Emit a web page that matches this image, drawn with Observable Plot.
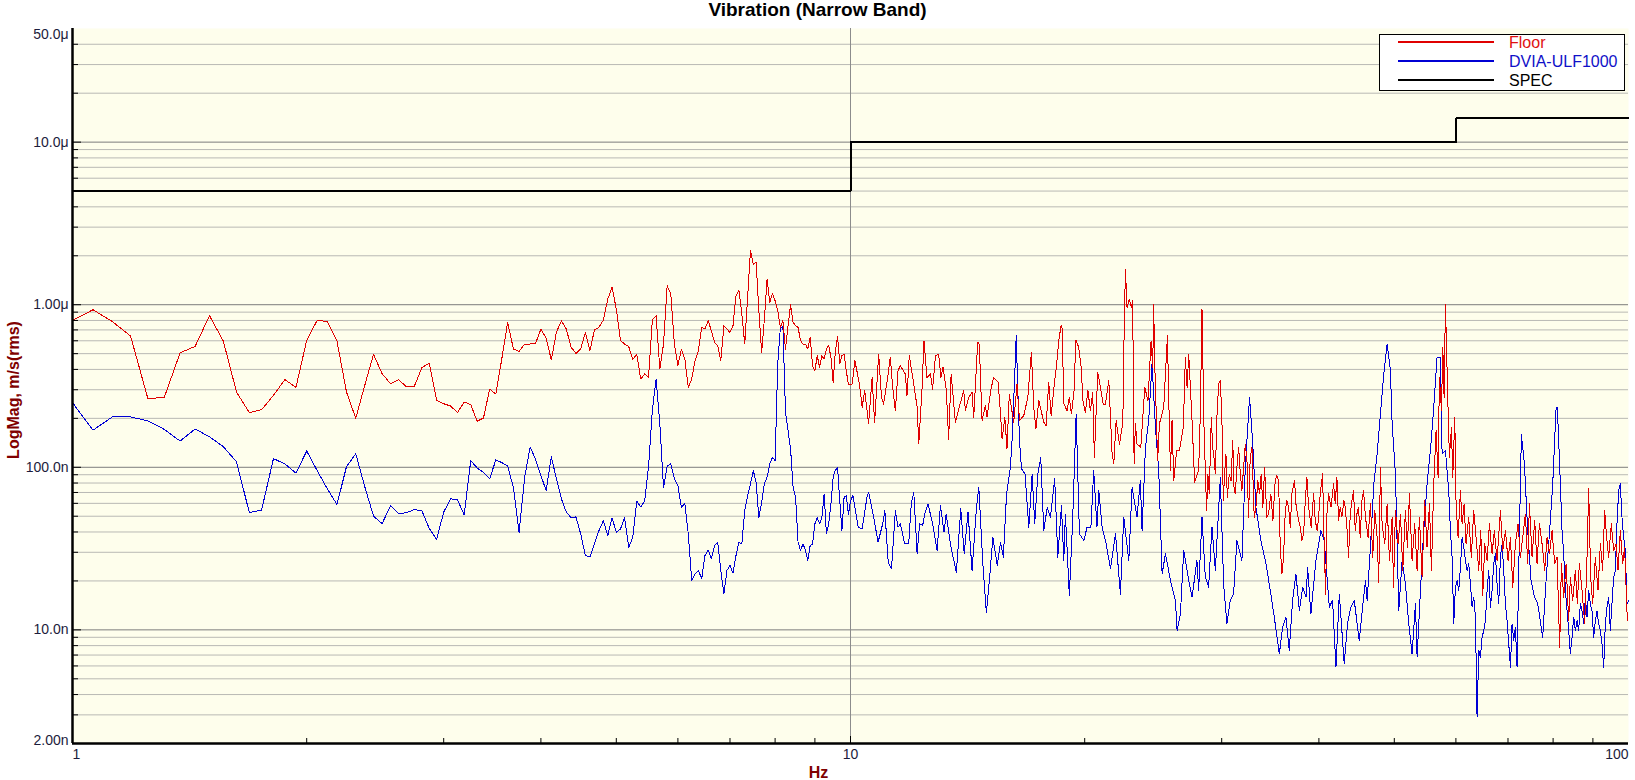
<!DOCTYPE html>
<html><head><meta charset="utf-8">
<script src="https://cdn.jsdelivr.net/npm/d3@7"></script>
<script src="https://cdn.jsdelivr.net/npm/@observablehq/plot@0.6"></script>
<style>
html,body{margin:0;padding:0;background:#fff;}
body{width:1635px;height:780px;overflow:hidden;font-family:"Liberation Sans",Arial,sans-serif;}
#title{height:20px;line-height:20px;text-align:center;font-weight:bold;font-size:19px;color:#000;}
#wrap{position:relative;width:1635px;height:760px;}
#wrap svg{display:block;}
#legend{position:absolute;left:1379px;top:14px;width:244px;height:55px;border:1px solid #000;background:#fff;}
.row{position:absolute;left:0;height:19px;width:100%;}
.sw{position:absolute;left:18px;width:96px;height:2px;top:8.4px;}
.lab{position:absolute;left:129px;top:0;font-size:16px;line-height:19px;white-space:nowrap;}
</style></head>
<body>
<div id="title">Vibration (Narrow Band)</div>
<div id="wrap"><div id="legend"></div></div>
<script>
// ---- values in nm/s (rms), frequencies in Hz ----
const lowHz = [1,1.0625,1.125,1.1875,1.25,1.3125,1.375,1.4375,1.5,1.5625,1.625,1.6875,1.75,1.8125,1.875,1.9375,
2,2.0625,2.125,2.1875,2.25,2.3125,2.375,2.4375,2.5,2.5625,2.625,2.6875,2.75,2.8125,2.875,2.9375,
3,3.0625,3.125,3.1875,3.25,3.3125,3.375,3.4375,3.5,3.5625,3.625,3.6875,3.75,3.8125,3.875,3.9375,
4,4.0625,4.125,4.1875,4.25,4.3125,4.375,4.4375,4.5,4.5625,4.625,4.6875,4.75,4.8125,4.875,4.9375,
5,5.0625,5.125,5.1875,5.25,5.3125,5.375,5.4375,5.5,5.5625,5.625,5.6875,5.75,5.8125,5.875,5.9375,
6,6.0625,6.125,6.1875,6.25,6.3125,6.375,6.4375,6.5,6.5625,6.625,6.6875,6.75,6.8125,6.875,6.9375,
7,7.0625,7.125,7.1875,7.25,7.3125,7.375,7.4375,7.5,7.5625,7.625,7.6875,7.75,7.8125,7.875,7.9375,
8,8.0625,8.125,8.1875,8.25,8.3125,8.375,8.4375,8.5,8.5625,8.625,8.6875,8.75,8.8125,8.875,8.9375,
9,9.0625,9.125,9.1875,9.25,9.3125,9.375,9.4375,9.5,9.5625,9.625,9.6875,9.75,9.8125,9.875,9.9375,10];

const floorLow = [800,931,788,642,264,270,506,554,856,598,290,217,226,277,346,310,
604,800,790,598,290,200,319,495,377,327,346,312,315,410,438,258,
246,238,217,252,243,192,201,303,282,463,778,534,517,573,573,578,
708,624,457,676,797,708,547,502,534,676,522,702,726,805,1083,1279,
940,601,573,552,463,493,349,375,357,805,856,402,573,1309,1163,573,
422,534,463,310,349,453,522,726,708,797,692,587,560,453,743,708,
676,743,1136,1231,877,573,1109,2168,1778,1820,919,509,817,1439,1034,1174,
1058,919,726,797,534,743,1000,778,743,726,601,573,573,534,630,422,
393,486,412,486,463,534,560,475,333,522,636,432,486,497,393,325,325];

const dviaLow = [250,169,204,204,193,171,145,172,154,134,108,52.7,54.5,113,105,92,
126,95.5,74,59,101,121,76,50,45,58,52,52.5,55,54,42,36,
53,64,63,51,110,99,93,84.8,111,107,102,75,39.8,87,133,112,
89,72,116,85,64,53,49,49.5,38.9,28.6,28.2,33.8,40.8,47,38,48.9,
39.8,41.8,48.9,32.2,37,62,57,62,100,223,349,185,75,102,105,85,
77,56.8,59.6,38.9,20.1,22.1,23.2,20.6,28.6,31,27.3,33,34.6,23.2,16.6,23.2,
24.9,22.3,28.6,34.6,33.8,54.2,67,79,95.4,80.9,49,61,79,87,105,115,
110,432,719,733,218,168,130,75,65.4,34.6,30.8,33.8,31,26.7,33,33.8,
44.9,49,44.9,49,68.6,38.9,44.9,59.6,87,96.3,99,62,40.8,65.4,67,51.2,62];

const floorHzHigh = [10.05,10.13,10.27,10.35,10.43,10.55,10.66,10.74,10.87,10.96,11.03,11.18,11.25,11.33,11.42,11.51,11.59,11.76,11.82,11.90,
12.06,12.18,12.24,12.36,12.43,12.54,12.67,12.75,12.86,12.98,13.07,13.15,13.28,13.37,13.47,13.64,13.78,13.98,14.05,14.19,
14.33,14.40,14.57,14.64,14.76,14.91,14.98,15.17,15.28,15.48,15.59,15.66,15.79,15.89,16.00,16.21,16.37,16.49,16.70,16.90,
17.08,17.20,17.31,17.46,17.72,17.84,17.98,18.11,18.30,18.40,18.52,18.65,18.70,18.81,18.98,19.11,19.23,19.38,19.48,19.65,
19.79,19.90,20.04,20.19,20.34,20.48,20.58,20.70,20.79,20.95,21.12,
21.27,21.48,21.69,21.80,21.95,22.17,22.39,22.45,22.56,22.67,22.83,22.96,23.05,23.15,23.24,23.35,23.61,23.89,24.12,24.34,
24.46,24.53,24.60,24.82,24.95,25.27,25.55,25.65,25.78,25.90,26.03,26.26,26.47,26.78,26.94,27.08,27.21,27.48,27.69,28.02,
28.16,28.30,28.47,
28.58,28.69,28.80,28.92,29.09,29.21,29.32,29.44,29.59,29.73,29.88,30.02,30.14,30.26,30.38,30.50,30.68,30.84,31.00,31.11,
31.23,31.38,31.54,31.70,31.85,32.01,32.17,32.33,32.48,32.64,32.81,33.03,33.20,33.39,33.56,33.72,33.89,34.06,34.29,34.46,
34.70,34.91,35.15,35.33,35.50,35.68,35.85,36.03,36.21,36.39,36.57,36.75,36.93,37.22,37.37,37.60,37.86,38.04,38.23,38.42,
38.61,38.80,39.10,39.38,39.57,39.80,39.96,40.16,40.44,40.60,40.80,40.96,41.16,41.45,41.78,41.98,42.19,42.40,42.61,42.82,
43.07,43.24,43.46,43.67,43.89,44.10,44.32,44.54,44.76,44.98,45.20,45.43,45.65,
45.91,46.27,46.59,46.91,47.20,47.52,47.75,47.99,48.23,48.61,48.95,49.29,49.68,49.88,50.17,50.57,50.92,51.27,51.67,51.98,
52.29,52.70,53.12,53.49,53.86,54.29,54.71,55.09,55.48,55.81,56.19,56.58,56.92,57.14,57.49,57.72,57.94,58.17,58.40,58.63,
58.86,59.21,59.45,59.80,60.03,60.39,60.81,61.11,61.47,61.83,62.32,62.81,63.25,63.69,64.20,64.58,64.97,65.35,65.81,66.26,
66.78,67.24,67.77,68.45,68.93,69.47,70.02,70.51,71.00,71.55,72.12,72.62,73.12,73.70,74.21,74.58,75.17,75.76,76.29,76.82,
77.43,78.04,78.58,79.13,79.75,80.38,80.94,81.58,81.98,82.55,83.13,83.78,84.19,84.78,85.45,85.95,86.46,87.15,87.84,88.36,
88.88,89.41,89.94,90.65,91.37,92.01,92.64,93.18,93.74,94.30,95.04,95.70,96.37,96.94,97.61,98.28,98.86,99.65];

const floorHigh = [325,453,325,234,296,185,357,189,497,269,245,375,475,310,223,393,422,375,276,486,
325,234,139,310,601,357,375,303,486,497,357,412,296,149,375,189,229,296,223,269,
289,203,587,573,194,240,203,310,357,333,213,149,203,130,282,189,325,194,208,269,
509,234,172,257,189,180,333,208,341,422,601,743,726,245,223,269,213,296,606,547,
412,257,218,296,223,289,115,234,384,310,245,
245,341,121,105,194,139,189,497,1657,963,1083,963,1058,105,185,139,133,310,257,601,
412,1009,453,110,185,234,644,257,95.4,194,82.8,127,127,176,475,310,497,194,81.1,95.4,
213,941,176,
95.4,54.2,91,68.6,203,133,115,91,213,325,341,194,62.4,91,121,65.4,91,82.8,146,75.4,
68.6,100,133,91,71.9,100,139,110,49.3,115,133,49.3,56.8,82.8,68.6,91,56.8,100,49.3,51.6,
68.6,47,82.8,88.9,82.8,32.3,22.1,28,54.2,62.4,56.8,42.8,68.6,82.8,59.5,49.3,42.8,35.4,38.9,62.4,
86.8,56.8,42.8,68.6,47,40.8,49.3,68.6,91,38.9,16.6,51.6,68.6,56.8,79,59.5,86.8,47,56.8,49.3,
62.4,56.8,42.8,28,51.6,62.4,71.9,40.8,51.6,56.8,37.1,62.4,71.9,
49.3,37.1,59.5,28,54.2,37.1,19.6,100,44.9,33.8,59.5,26.7,49.3,18.3,54.2,33.8,51.6,23.2,54.2,32.2,
68.6,26.7,44.9,23.2,49.3,21.1,62.4,32.2,59.5,23.2,79,168,86.8,357,223,547,269,1009,474,223,
115,176,86.8,203,59.5,37.1,71.9,44.9,59.5,33.8,49.3,28,54.2,37.1,23.2,40.8,16.3,33.8,26.7,44.9,
29.3,40.8,26.7,54.2,30.7,40.8,26.7,37.1,18.3,33.8,44.9,28,37.1,51.6,25.5,59.5,28,47,25.5,44.9,
33.8,23.2,37.1,29.3,40.8,25.5,28,7.8,25.5,15.9,25.5,11.4,21.1,15.1,23.2,14.5,25.5,17.5,10.9,23.2,
73.6,21.1,14.5,28,17.5,33.8,23.2,54.2,37.1,28,44.9,30.7,33.8,23.2,40.8,25.5,32.2,11.4];

const dviaHzHigh = [10.07,10.23,10.35,10.50,10.55,10.71,10.85,11.00,11.07,11.18,11.29,11.42,11.51,11.59,11.74,11.88,11.97,12.06,12.18,12.27,
12.38,12.46,12.58,12.75,12.92,13.05,13.19,13.27,13.45,13.68,13.86,14.00,14.16,14.33,14.52,14.62,14.79,14.95,15.09,15.24,
15.44,15.59,15.72,15.87,16.05,16.13,16.25,16.33,16.41,16.49,16.59,16.76,16.95,17.12,17.25,17.41,17.56,17.72,17.90,18.07,
18.30,18.47,18.67,18.80,18.89,19.11,19.30,19.50,19.69,19.95,20.14,20.37,20.54,20.74,20.85,21.06,
21.27,21.59,21.91,22.23,22.45,22.79,23.01,23.35,23.58,23.70,23.94,24.17,24.41,24.66,24.90,25.15,25.40,25.78,26.16,26.29,
26.55,26.81,27.21,27.48,27.88,28.02,28.30,28.58,28.86,29.15,29.44,29.88,30.17,30.47,30.77,31.07,31.38,31.85,32.17,32.58,
32.87,33.20,33.69,34.20,34.70,35.05,35.58,35.93,36.28,36.64,37.00,37.37,37.75,38.12,38.50,38.69,39.06,39.65,40.24,40.64,
41.25,41.65,42.07,42.49,43.11,43.54,43.97,44.41,45.07,45.52,
45.91,46.14,46.59,47.06,47.52,47.99,48.47,48.95,49.43,49.68,50.17,50.67,51.17,51.67,52.19,52.70,53.23,53.49,54.02,54.55,
55.09,55.64,56.19,56.75,57.31,57.60,58.17,58.74,
59.03,59.33,59.62,59.91,60.21,60.51,60.81,61.11,61.41,61.71,62.01,62.32,62.63,62.94,63.25,63.57,63.88,64.20,64.51,64.83,
65.16,65.48,65.80,66.13,66.45,66.78,67.11,67.44,67.77,68.11,68.45,68.79,69.13,69.47,69.81,70.16,70.51,70.85,71.20,71.55,
71.90,72.26,
72.83,73.48,74.21,74.95,75.69,76.44,77.58,78.35,79.13,79.91,80.70,81.02,81.74,
82.14,82.55,82.96,83.37,83.78,84.19,84.61,85.03,85.45,85.87,86.29,86.72,87.15,87.58,88.01,88.44,88.88,89.32,89.76,90.20,
90.65,91.10,91.55,92.00,92.46,92.92,93.37,93.84,94.30,94.76,95.23,95.70,96.18,96.65,97.13,97.61,98.09,98.57,99.06,99.55,100];

const dviaHigh = [67,42.8,41.8,65.4,70.2,49.3,34.6,44.9,54.2,26.1,23.8,54.2,42.8,44.9,33.8,33.8,59.5,70.2,29.4,44.9,
43.8,51.6,59.5,44.9,30.8,58.1,39.8,51.6,33,22.6,55.5,29.4,52.9,23.2,56.8,75.4,26.1,12.7,20.6,37.1,
24.9,34.6,28,68.6,100,146,341,644,296,146,97.7,91,42.8,91,44.9,91,115,40.8,56.8,49.3,
84.8,28,58.1,26.7,51.6,16.3,47,213,38.9,35.4,42.8,42.8,95.4,42.8,71.9,42.8,
35.4,23.8,38.9,16.6,49.3,26.7,75.4,49.3,82.8,40.8,133,194,432,176,95.4,22.1,29.4,20.1,15.2,9.9,
12.5,30.8,20.1,15.9,26.7,17.5,49.3,21.1,18.3,42.8,23.2,86.8,19.2,10.9,15.2,16.6,35.4,26.7,100,269,
146,56.8,35.4,25.5,16.6,12,7.1,10.4,12,7.5,15.2,22.1,13.2,18.3,15.9,24.3,12.5,26.7,40.8,35.4,
13.8,15.2,5.9,16.6,6.2,10.9,13.8,15.2,8.6,13.8,
20.1,15.1,32.2,79,121,213,375,574,393,185,91,13.1,26.7,19.2,10.9,7.1,14.5,6.8,17.5,40.8,
79,127,234,474,474,121,127,71.9,
40.8,28,10.9,18.3,20.1,17.5,24.3,37.1,32.2,26.7,23.2,25.5,19.2,13.8,15.9,12,2.9,7.5,6.8,9,
9.9,11.4,17.5,23.2,13.8,17.5,25.5,29.3,19.2,14.5,28,33.8,23.2,14.5,11.4,8.2,5.9,10.9,8.6,10.4,
5.9,23.2,
160,105,40.8,20.1,15.9,14.5,9,20.1,38.9,79,229,234,79,
40.8,29.3,17.5,13.1,9.9,7.1,9,12,9.9,11.4,9.9,14.5,13.1,10.9,15.9,12,17.5,14.5,13.1,9,
11.4,13.1,10.9,9.9,8.2,5.9,10.9,13.8,15.9,9.9,14.5,21.1,23.2,44.9,71.9,79,49.3,37.1,30.7,14.5,15.1];

const specHz = [1, 10, 60, 100];
const specLevel = [5000, 10000, 14000, 14000];

const seriesNames = ["Floor", "DVIA-ULF1000", "SPEC"];
const seriesColors = ["#e00000", "#0000d4", "#000000"];

const yTickValues = [2, 10, 100, 1000, 10000, 50000];
const yTickLabels = ["2.00n", "10.0n", "100.0n", "1.00\u03bc", "10.0\u03bc", "50.0\u03bc"];
const xTickValues = [1, 10, 100];
const xTickLabels = ["1", "10", "100"];
const xDomain = [1, 100];
const yDomain = [2, 50000];

// ---- tables ----
const mk = (fs, vs) => fs.slice(0, Math.min(fs.length, vs.length)).map((f, i) => ({f, v: vs[i]}));
const floorData = mk(lowHz, floorLow).concat(mk(floorHzHigh, floorHigh));
const dviaData = mk(lowHz, dviaLow).concat(mk(dviaHzHigh, dviaHigh));
const specData = mk(specHz, specLevel);
const yLab = yTickValues.map((v, i) => ({v, label: yTickLabels[i]}));
const xLab = xTickValues.map((f, i) => ({f, label: xTickLabels[i]}));

const isDecade = t => Math.abs(Math.log10(t) - Math.round(Math.log10(t))) < 1e-9;
const yAll = d3.scaleLog().domain(yDomain).ticks();
const yGrid = yAll.filter(t => t > yDomain[0] && t < yDomain[1]);
const yMinor = yGrid.filter(t => !isDecade(t));
const yMajor = yGrid.filter(isDecade);
const xAll = d3.scaleLog().domain(xDomain).ticks();
const xMinor = xAll.filter(t => !isDecade(t));
const xMajor = xAll.filter(t => isDecade(t) && t > xDomain[0] && t < xDomain[1]);

const W = 1635, H = 760, ML = 72, MR = 7, MT = 8, MB = 37;
const frameW = W - ML - MR, frameH = H - MT - MB;

const labelColor = "#1c1c3c";
const titleColor = "#800000";

const chart = Plot.plot({
  width: W,
  height: H,
  marginLeft: ML,
  marginRight: MR,
  marginTop: MT,
  marginBottom: MB,
  x: {type: "log", domain: xDomain, axis: null},
  y: {type: "log", domain: yDomain, axis: null},
  style: {fontFamily: "'Liberation Sans', Arial, sans-serif", background: "#ffffff", overflow: "visible"},
  marks: [
    Plot.frame({fill: "#fefeec", stroke: null}),
    Plot.ruleY(yMinor, {stroke: "#b9b9b4", strokeWidth: 1}),
    Plot.ruleY(yMajor, {stroke: "#7c7c7c", strokeWidth: 1}),
    Plot.ruleX(xMajor, {stroke: "#8c8c8c", strokeWidth: 1}),
    Plot.line(dviaData, {x: "f", y: "v", stroke: seriesColors[1], strokeWidth: 1, shapeRendering: "crispEdges"}),
    Plot.line(floorData, {x: "f", y: "v", stroke: seriesColors[0], strokeWidth: 1, shapeRendering: "crispEdges"}),
    Plot.line(specData, {x: "f", y: "v", stroke: seriesColors[2], strokeWidth: 2, curve: "step-after", shapeRendering: "crispEdges"}),
    // inward tick marks
    Plot.ruleY(yMinor, {stroke: "#000", strokeWidth: 1, insetRight: frameW - 6}),
    Plot.ruleY(yMajor, {stroke: "#000", strokeWidth: 1, insetRight: frameW - 9}),
    Plot.ruleX(xMinor, {stroke: "#000", strokeWidth: 1, insetTop: frameH - 5}),
    Plot.ruleX(xMajor, {stroke: "#000", strokeWidth: 1, insetTop: frameH - 7}),
    // axis lines
    Plot.ruleX([xDomain[0]], {stroke: "#000", strokeWidth: 2.5}),
    Plot.ruleY([yDomain[0]], {stroke: "#000", strokeWidth: 2.5}),
    // y tick labels
    Plot.text(yLab.slice(1, -1), {y: "v", text: "label", frameAnchor: "left", textAnchor: "end", lineAnchor: "middle", dx: -4, fontSize: 14, fill: labelColor}),
    Plot.text(yLab.slice(-1), {y: "v", text: "label", frameAnchor: "left", textAnchor: "end", lineAnchor: "top", dx: -4, dy: 1, fontSize: 14, fill: labelColor}),
    Plot.text(yLab.slice(0, 1), {y: "v", text: "label", frameAnchor: "left", textAnchor: "end", lineAnchor: "bottom", dx: -4, dy: 1, fontSize: 14, fill: labelColor}),
    // x tick labels
    Plot.text(xLab.slice(0, 1), {x: "f", text: "label", frameAnchor: "bottom", textAnchor: "start", lineAnchor: "top", dy: 6, fontSize: 14, fill: labelColor}),
    Plot.text(xLab.slice(1, -1), {x: "f", text: "label", frameAnchor: "bottom", textAnchor: "middle", lineAnchor: "top", dy: 6, fontSize: 14, fill: labelColor}),
    Plot.text(xLab.slice(-1), {x: "f", text: "label", frameAnchor: "bottom", textAnchor: "end", lineAnchor: "top", dy: 6, fontSize: 14, fill: labelColor}),
    // axis titles
    Plot.text(["Hz"], {frameAnchor: "bottom", dx: -32, dy: 29, lineAnchor: "middle", fontWeight: "bold", fontSize: 16, fill: titleColor}),
    Plot.text(["LogMag, m/s(rms)"], {frameAnchor: "left", rotate: -90, dx: -59, dy: 4, lineAnchor: "middle", textAnchor: "middle", fontWeight: "bold", fontSize: 16, fill: titleColor})
  ]
});

const wrap = document.getElementById("wrap");
wrap.insertBefore(chart, wrap.firstChild);

const legend = document.getElementById("legend");
seriesNames.forEach((name, i) => {
  const row = document.createElement("div");
  row.className = "row";
  row.style.top = (-2 + i * 19) + "px";
  const sw = document.createElement("div");
  sw.className = "sw";
  sw.style.background = seriesColors[i];
  const lab = document.createElement("div");
  lab.className = "lab";
  lab.style.color = i === 0 ? "#e01010" : (i === 1 ? "#1010c8" : "#000");
  lab.textContent = name;
  row.appendChild(sw);
  row.appendChild(lab);
  legend.appendChild(row);
});
</script>
</body></html>
